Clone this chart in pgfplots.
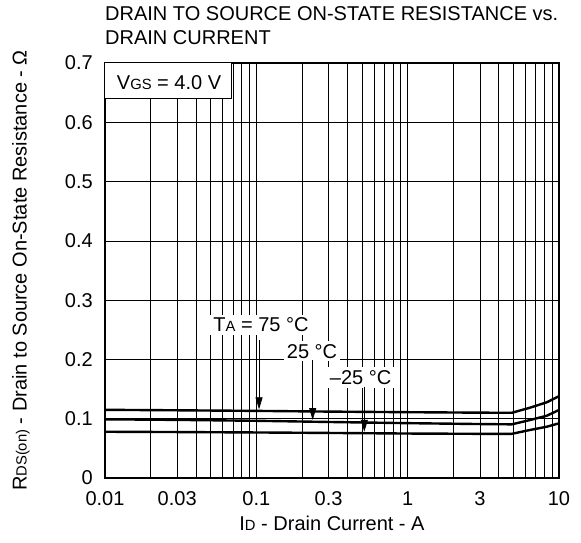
\documentclass[border=0pt]{standalone}
\usepackage{fontspec}
\setmainfont{Liberation Sans}
\usepackage{pgfplots}
\pgfplotsset{compat=1.18}
\usetikzlibrary{arrows.meta}
\newcommand\fs{\fontsize{20}{24}\selectfont}
\newcommand\sub[1]{{\fontsize{14.8}{14.8}\selectfont #1}}

\begin{document}
\begin{tikzpicture}[x=1pt,y=1pt]
\path[use as bounding box] (0,0) rectangle (581,543);
\node[anchor=base west, inner sep=0, font=\fs] at (105,522.3) {DRAIN TO SOURCE ON-STATE RESISTANCE vs.};
\node[anchor=base west, inner sep=0, font=\fs] at (105,498) {DRAIN CURRENT};
\begin{axis}[
  at={(105pt,65pt)}, anchor=south west, scale only axis,
  width=454pt, height=415pt,
  xmode=log, xmin=0.01, xmax=10, ymin=0, ymax=0.7,
  xtick={0.01,0.03,0.1,0.3,1,3,10},
  xticklabels={0.01,0.03,0.1,0.3,1,3,10},
  minor xtick={0.02,0.04,0.05,0.06,0.07,0.08,0.09,0.2,0.4,0.5,0.6,0.7,0.8,0.9,2,4,5,6,7,8,9},
  ytick={0,0.1,0.2,0.3,0.4,0.5,0.6,0.7},
  yticklabels={0,0.1,0.2,0.3,0.4,0.5,0.6,0.7},
  grid=both,
  major grid style={black,line width=0.65pt},
  minor grid style={black,line width=0.65pt},
  major tick length=0pt, minor tick length=0pt,
  axis line style={black,line width=1.4pt},
  /pgf/number format/assume math mode=true,
  tick label style={font=\fs},
  xticklabel style={anchor=north, inner sep=0pt, yshift=-13.7pt},
  yticklabel style={anchor=east, inner sep=0pt, xshift=-12pt},
  label style={font=\fs},
  xlabel={I\sub{D} - Drain Current - A},
  ylabel={R\sub{DS(on)} - Drain to Source On-State Resistance - Ω},
  xlabel style={at={(axis description cs:0.5,-0.127)}, anchor=base},
  ylabel style={at={(axis description cs:-0.1725,0.5)}, anchor=base},
]
\addplot[black, line width=2.4pt, line join=round] coordinates {
 (0.01,0.1150) (0.03,0.1142) (0.1,0.1132) (0.3,0.1120) (1,0.1110) (3,0.1102) (4.88,0.1100) (6.44,0.1186) (8.3,0.1277) (10,0.1380)};
\addplot[black, line width=2.4pt, line join=round] coordinates {
 (0.01,0.0990) (0.03,0.0980) (0.1,0.0965) (0.3,0.0945) (1,0.0925) (3,0.0910) (4.88,0.0905) (6.44,0.0978) (8.3,0.1050) (10,0.1147)};
\addplot[black, line width=2.4pt, line join=round] coordinates {
 (0.01,0.0780) (0.03,0.0775) (0.1,0.0768) (0.3,0.0760) (1,0.0750) (3,0.0745) (4.88,0.0745) (6.44,0.0810) (8.3,0.0865) (10,0.0922)};

\fill[white] (axis cs:0.01,0.7) rectangle (axis cs:0.069,0.641);
\draw[black, line width=0.9pt] (axis cs:0.01,0.641) -- (axis cs:0.069,0.641) -- (axis cs:0.069,0.7);
\node[anchor=base, font=\fs, inner sep=0pt] at (axis cs:0.0265,0.6555) {V\sub{GS} = 4.0 V};

\node[fill=white, inner sep=3pt, anchor=base, font=\fs] at (axis cs:0.1074,0.2467) {T\sub{A} = 75 °C};
\node[fill=white, inner sep=3pt, anchor=base, font=\fs] at (axis cs:0.2334,0.2019) {25 °C};
\node[fill=white, inner sep=3pt, anchor=base, font=\fs] at (axis cs:0.4885,0.158) {–25 °C};

\draw[black, line width=0.8pt, -{Triangle[length=12pt,width=7pt]}] (axis cs:0.1042,0.233) -- (axis cs:0.1042,0.1158);
\draw[black, line width=0.8pt, -{Triangle[length=12pt,width=7pt]}] (axis cs:0.2357,0.199) -- (axis cs:0.2357,0.0978);
\draw[black, line width=0.8pt, -{Triangle[length=12pt,width=7pt]}] (axis cs:0.517,0.154) -- (axis cs:0.517,0.078);
\end{axis}
\end{tikzpicture}
\end{document}
